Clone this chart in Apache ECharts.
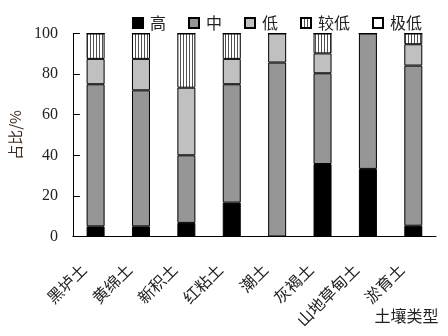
<!DOCTYPE html>
<html>
<head>
<meta charset="utf-8">
<script src="https://cdn.jsdelivr.net/npm/echarts@6/dist/echarts.min.js"></script>
<style>
  html, body { margin: 0; padding: 0; background: #fff; }
  #chart { width: 448px; height: 336px; }
</style>
</head>
<body>
<div id="chart"></div>
<script>
// Soil types and the share (%) of each grade level
const soilTypes = ['黑垆土', '黄绵土', '新积土', '红粘土', '潮土', '灰褐土', '山地草甸土', '淤育土'];
const gradeNames = ['高', '中', '低', '较低', '极低'];
const high    = [5,    5,    6.7,  16.7, 0,    35.7, 33.3, 5.3];
const medium  = [70,   67,   33.3, 58.3, 85.7, 44.7, 66.7, 78.9];
const low     = [12.5, 15.5, 33.3, 12.5, 14.3, 9.8,  0,    10.5];
const lower   = [12.5, 12.5, 26.7, 12.5, 0,    9.8,  0,    5.3];
const lowest  = [0,    0,    0,    0,    0,    0,    0,    0];
const yTicks  = { min: 0, max: 100, interval: 20 };

// vertical hatch fill for the "较低" grade
function makeStripes() {
  const c = document.createElement('canvas');
  c.width = 3; c.height = 4;
  const g = c.getContext('2d');
  g.fillStyle = '#ffffff';
  g.fillRect(0, 0, 3, 4);
  g.fillStyle = '#505050';
  g.fillRect(0, 0, 1, 4);
  return c;
}

const fills = ['#000000', '#969696', '#c0c0c0', { image: makeStripes(), repeat: 'repeat' }, '#ffffff'];
const seriesData = [high, medium, low, lower, lowest];

const serif = '"Liberation Serif", "Noto Sans CJK SC", serif';
const cjk = '"Noto Sans CJK SC", "Liberation Serif", sans-serif';

const chart = echarts.init(document.getElementById('chart'), null, { renderer: 'canvas' });
chart.setOption({
  animation: false,
  backgroundColor: '#ffffff',
  grid: { left: 72, right: 12, top: 33.5, bottom: 99.5, containLabel: false },
  legend: {
    left: 127, top: 10,
    itemWidth: 10, itemHeight: 10, itemGap: 22,
    icon: 'rect',
    textStyle: { fontFamily: cjk, fontSize: 16, color: '#222', padding: [0, 0, 0, 2] },
    data: gradeNames
  },
  xAxis: {
    type: 'category',
    data: soilTypes,
    boundaryGap: true,
    name: '土壤类型',
    nameLocation: 'end',
    nameGap: 0,
    nameTextStyle: {
      fontFamily: cjk, fontSize: 16, color: '#222',
      align: 'right', verticalAlign: 'top', padding: [71, 8, 0, 0]
    },
    axisLine: { lineStyle: { color: '#000', width: 1 } },
    axisTick: { inside: true, length: 4, lineStyle: { color: '#000' } },
    axisLabel: {
      rotate: 45, margin: 18, padding: [0, 17, 0, 0],
      fontFamily: cjk, fontSize: 16, color: '#222', interval: 0
    },
    splitLine: { show: false }
  },
  yAxis: {
    type: 'value',
    min: yTicks.min, max: yTicks.max, interval: yTicks.interval,
    name: '占比/%',
    nameLocation: 'middle',
    nameGap: 29,
    nameTextStyle: { fontFamily: cjk, fontSize: 15, color: '#3a2a20' },
    axisLine: { show: true, lineStyle: { color: '#000', width: 1 } },
    axisTick: { show: true, inside: true, length: 7, lineStyle: { color: '#000' } },
    axisLabel: { margin: 15, fontFamily: serif, fontSize: 16, color: '#222' },
    splitLine: { show: false }
  },
  series: gradeNames.map((name, i) => ({
    name: name,
    type: 'bar',
    stack: 'share',
    barWidth: 18,
    data: seriesData[i],
    itemStyle: { color: fills[i], borderColor: '#000', borderWidth: 1 }
  }))
});
</script>
</body>
</html>
